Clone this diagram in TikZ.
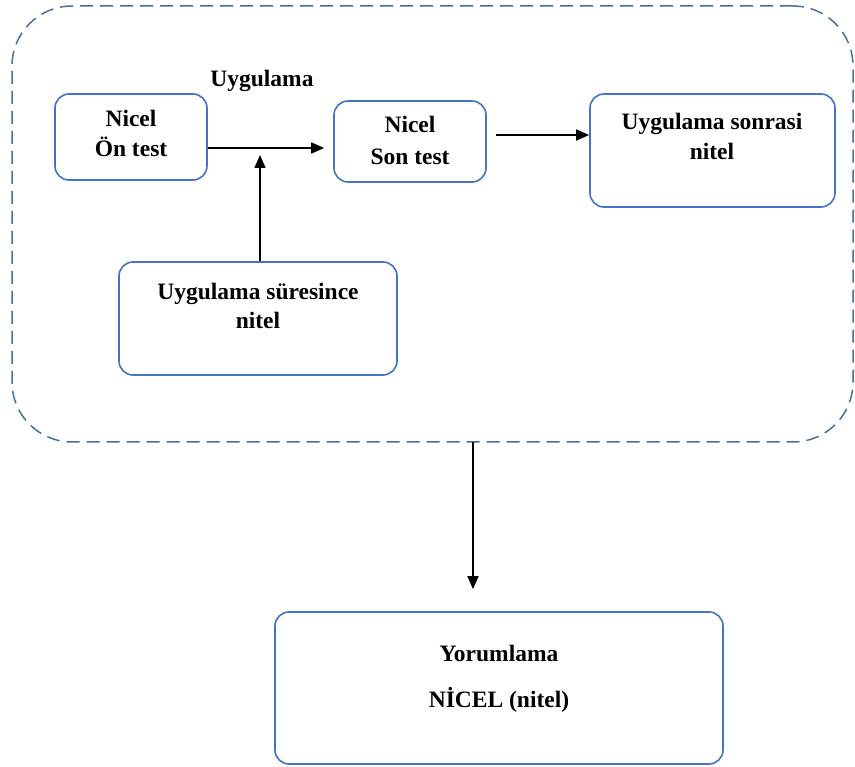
\documentclass[tikz,border=0pt]{standalone}
\usepackage{fontspec}
\setmainfont{Liberation Serif}
\usetikzlibrary{arrows.meta}
\definecolor{boxblue}{RGB}{68,114,196}
\definecolor{dashblue}{RGB}{65,113,156}
\begin{document}
\begin{tikzpicture}[x=1pt,y=-1pt,
  box/.style={draw=boxblue, line width=1.6pt, rounded corners=14pt, inner sep=0pt},
  frame/.style={draw=dashblue, line width=1.5pt, dash pattern=on 13pt off 7pt, rounded corners=60pt, inner sep=0pt},
  lbl/.style={font=\fontsize{23.5}{28}\selectfont\bfseries, inner sep=0pt, anchor=base},
  conn/.style={line width=1.7pt, -{Triangle[length=13pt,width=11pt]}}]
\useasboundingbox (0,0) rectangle (855,767);

% dashed grouping frame
\node[frame, minimum width=841pt, minimum height=436pt] (grp) at (432.5,224) {};

% boxes
\node[box, minimum width=152pt, minimum height=86pt]  (pre)    at (131,137) {};
\node[box, minimum width=152pt, minimum height=81pt]  (post)   at (410,141.5) {};
\node[box, minimum width=245pt, minimum height=113pt] (after)  at (712.5,150.5) {};
\node[box, minimum width=278pt, minimum height=113pt] (during) at (258,318.5) {};
\node[box, minimum width=448pt, minimum height=152pt] (interp) at (499,688) {};

% texts
\node[lbl] (tapp) at (262,87) {Uygulama};
\node[lbl] (pre1) at (131,127) {Nicel};
\node[lbl] (pre2) at (131,157) {Ön test};
\node[lbl] (post1) at (410,133) {Nicel};
\node[lbl] (post2) at (410,165) {Son test};
\node[lbl] (after1) at (712,130) {Uygulama sonrasi};
\node[lbl] (after2) at (712,160) {nitel};
\node[lbl] (dur1) at (258,300) {Uygulama süresince};
\node[lbl] (dur2) at (258,329) {nitel};
\node[lbl] (int1) at (499,661) {Yorumlama};
\node[lbl] (int2) at (499,707) {NİCEL (nitel)};

% connectors
\coordinate (joint) at (260,155);
\coordinate (drop) at (473,442);
\draw[conn, shorten >=9pt] ([yshift=-11pt]pre.east) -- ([yshift=-11pt]pre.east -| post.west);
\draw[conn] (during.north -| joint) -- (joint);
\draw[conn, shorten <=9pt] ([yshift=6.5pt]post.east) -- ([yshift=6.5pt]post.east -| after.west);
\draw[conn, shorten >=22pt] (drop) -- (drop |- interp.north);
\end{tikzpicture}
\end{document}
